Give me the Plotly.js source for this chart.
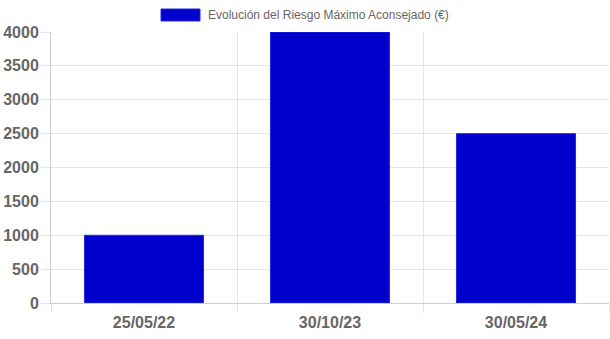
<!DOCTYPE html>
<html>
<head>
<meta charset="utf-8">
<script src="https://cdn.plot.ly/plotly-3.0.1.min.js"></script>
<style>html,body{margin:0;padding:0;background:#fff;}#chart{width:610px;height:339px;}</style>
</head>
<body>
<div id="chart"></div>
<script>
const categories = ["25/05/22", "30/10/23", "30/05/24"];
const values = [1000, 4000, 2500];
const seriesName = "Evolución del Riesgo Máximo Aconsejado (€)";
const yTicks = [0, 500, 1000, 1500, 2000, 2500, 3000, 3500, 4000];

const barColor = "rgb(0,0,204)";
const gridColor = "rgba(0,0,0,0.1)";
const textColor = "#666";

const trace = {
  type: "bar",
  x: categories,
  y: values,
  name: seriesName,
  marker: {color: barColor, line: {color: "rgba(40,40,230,1)", width: 1}},
  showlegend: false,
  hoverinfo: "x+y"
};

const layout = {
  width: 610,
  height: 339,
  margin: {l: 51, r: 1, t: 32, b: 36},
  paper_bgcolor: "#fff",
  plot_bgcolor: "#fff",
  bargap: 0.36,
  font: {family: "Liberation Sans, Arial, sans-serif", color: textColor},
  xaxis: {
    type: "category",
    tickson: "boundaries",
    showgrid: true,
    gridcolor: gridColor,
    ticks: "outside",
    ticklen: 9,
    tickcolor: gridColor,
    showline: true,
    linecolor: "rgba(0,0,0,0.2)",
    linewidth: 1,
    tickfont: {size: 16, color: textColor, family: "Liberation Sans, Arial, sans-serif", weight: "bold"},
    ticklabelstandoff: 5,
    zeroline: false,
    fixedrange: true
  },
  yaxis: {
    range: [0, 4000],
    tickvals: yTicks,
    ticktext: yTicks.map(String),
    showgrid: true,
    gridcolor: gridColor,
    ticks: "outside",
    ticklen: 9,
    tickcolor: gridColor,
    showline: true,
    linecolor: "rgba(0,0,0,0.2)",
    linewidth: 1,
    zeroline: false,
    tickfont: {size: 16, color: textColor, family: "Liberation Sans, Arial, sans-serif", weight: "bold"},
    ticklabelstandoff: -1,
    fixedrange: true
  },
  shapes: [{
    type: "rect", xref: "paper", yref: "paper",
    x0: (161 - 51) / 558, x1: (200 - 51) / 558,
    y0: 1 + (32 - 21) / 271, y1: 1 + (32 - 9) / 271,
    fillcolor: barColor, line: {color: "rgba(40,40,230,1)", width: 1}
  }],
  annotations: [{
    xref: "paper", yref: "paper",
    x: (206 - 51) / 558, y: 1 + (32 - 15) / 271,
    xanchor: "left", yanchor: "middle",
    text: seriesName, showarrow: false,
    font: {size: 12, color: textColor, family: "Liberation Sans, Arial, sans-serif"}
  }]
};

Plotly.newPlot("chart", [trace], layout, {displayModeBar: false, staticPlot: true});
</script>
</body>
</html>
